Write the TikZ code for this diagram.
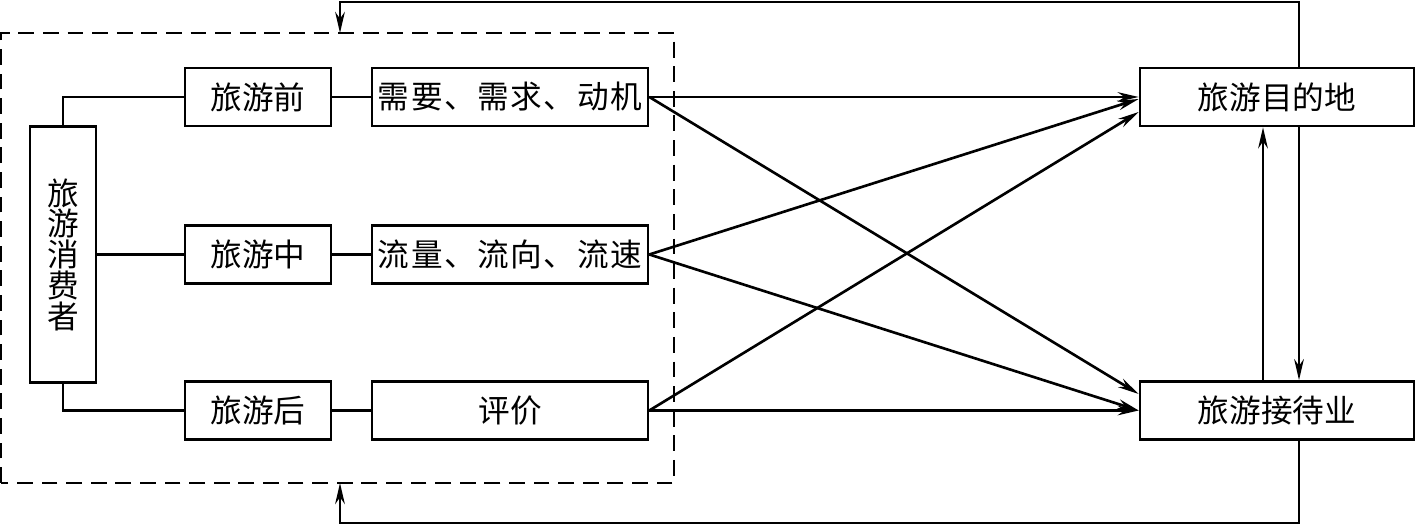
\documentclass[tikz,border=0pt]{standalone}
\usepackage{fontspec}
\setmainfont{Noto Sans CJK SC}
\newfontfamily\widefont[LetterSpace=5]{Noto Sans CJK SC}
\usepackage{tikz}
\usetikzlibrary{arrows.meta, positioning}
\tikzstyle{bbox} = [rectangle, draw, line width=1.5pt, inner sep=0pt, minimum height=1.16cm, font=\fontsize{18pt}{18pt}\selectfont]
\tikzstyle{line} = [draw, line width=1.5pt]
\tikzstyle{arrow} = [draw, line width=1.5pt, -{Stealth[length=12pt, width=5.5pt]}]
\tikzstyle{dline} = [draw, line width=1.5pt, dash pattern=on 9pt off 5pt]

\begin{document}
\begin{tikzpicture}
			\useasboundingbox (0,0) rectangle (28.32,10.52);
			\node [bbox, minimum width=1.32cm, minimum height=5.12cm, align=center, font=\fontsize{18pt}{17.5pt}\selectfont] (consumer) at (1.26, 5.43) {旅\\游\\消\\费\\者};
			\node [bbox, minimum width=2.92cm] (pre) at (5.16, 8.58) {旅游前};
			\node [bbox, minimum width=2.92cm] (mid) at (5.16, 5.43) {旅游中};
			\node [bbox, minimum width=2.92cm] (post) at (5.16, 2.31) {旅游后};
			\node [bbox, minimum width=5.52cm] (need) at (10.2, 8.58) {\widefont 需要、需求、动机};
			\node [bbox, minimum width=5.52cm] (flow) at (10.2, 5.43) {\widefont 流量、流向、流速};
			\node [bbox, minimum width=5.52cm] (eval) at (10.2, 2.31) {评价};
			\node [bbox, minimum width=5.48cm] (dest) at (25.54, 8.58) {旅游目的地};
			\node [bbox, minimum width=5.48cm] (host) at (25.54, 2.31) {旅游接待业};
			
			\coordinate (dtop) at (6.8, 9.86);
			\coordinate (dbot) at (6.8, 0.86);
			\coordinate (tr) at (25.98, 10.48);
			\coordinate (tl) at (6.8, 10.48);
			\coordinate (br) at (25.98, 0.06);
			\coordinate (bl) at (6.8, 0.06);
			\coordinate (up) at (25.26, 5);
			
			\path [dline] (0.02, 0.86) rectangle (13.48, 9.86);
			
			\path [line] (consumer.north) |- (pre.west);
			\path [line] (consumer.east) -- (mid.west);
			\path [line] (consumer.south) |- (post.west);
			\path [line] (pre) -- (need);
			\path [line] (mid) -- (flow);
			\path [line] (post) -- (eval);
			
			\path [arrow] (need.east) -- (dest.west);
			\path [arrow] (need.east) -- ([yshift=0.33cm]host.west);
			\path [arrow] (flow.east) -- ([yshift=-0.04cm]dest.west);
			\path [arrow] (flow.east) -- (host.west);
			\path [arrow] (eval.east) -- ([yshift=-0.3cm]dest.west);
			\path [arrow] (eval.east) -- (host.west);
			
			\path [arrow] (up |- host.north) -- (up |- dest.south);
			\path [arrow] (tr |- dest.south) -- (tr |- host.north);
			
			\path [arrow] (tr |- dest.north) -- (tr) -- (tl) -- (dtop);
			\path [arrow] (br |- host.south) -- (br) -- (bl) -- (dbot);
		\end{tikzpicture}
\end{document}
